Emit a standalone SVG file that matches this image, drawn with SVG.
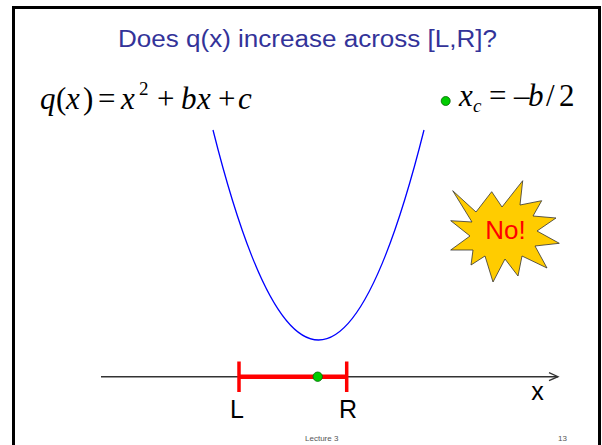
<svg xmlns="http://www.w3.org/2000/svg" width="602" height="445" viewBox="0 0 602 445">
<defs>
<style>
.title{font-family:"Liberation Sans",Arial,sans-serif;font-size:23px;fill:#333399}
.math{font-family:"Liberation Serif","Times New Roman",serif;font-size:31px;fill:#000}
.it{font-style:italic}
.lbl{font-family:"Liberation Sans",Arial,sans-serif;font-size:25px;fill:#000}
.foot{font-family:"Liberation Sans",Arial,sans-serif;font-size:8px;fill:#555}
.dot{fill:#00cc00;stroke:#006600;stroke-width:0.8}
</style>
<marker id="arr" markerWidth="12" markerHeight="12" refX="10" refY="6" orient="auto" markerUnits="userSpaceOnUse">
<path d="M1,2 L10,6 L1,10" fill="none" stroke="#333" stroke-width="1.3"/>
</marker>
</defs>
<rect width="602" height="445" fill="#fff"/>
<path d="M13.5,450 L13.5,7.5 L599.5,7.5 L599.5,450" fill="none" stroke="#000" stroke-width="3"/>
<text class="title" x="307.5" y="47" text-anchor="middle" textLength="379" lengthAdjust="spacingAndGlyphs">Does q(x) increase across [L,R]?</text>
<g id="formula-q">
<text class="math" y="108.5"><tspan class="it" x="40">q</tspan><tspan x="56">(</tspan><tspan class="it" x="66">x</tspan><tspan x="83">)</tspan><tspan x="98">=</tspan><tspan class="it" x="121">x</tspan><tspan x="139" y="95" style="font-size:19px">2</tspan><tspan x="157" y="108.5">+</tspan><tspan class="it" x="181">b</tspan><tspan class="it" x="197">x</tspan><tspan x="218">+</tspan><tspan class="it" x="238">c</tspan></text>
</g>
<g id="formula-xc">
<circle class="dot" cx="445.7" cy="101" r="4.5"/>
<text class="math" y="105.5"><tspan class="it" x="459">x</tspan><tspan class="it" x="473" y="112" style="font-size:19px">c</tspan><tspan x="489" y="105.5">=</tspan><tspan x="514">–</tspan><tspan class="it" x="528">b</tspan><tspan x="546">/</tspan><tspan x="559">2</tspan></text>
</g>
<g id="parabola">
<path d="M213,130 Q318.5,550 424,130" fill="none" stroke="#0000ff" stroke-width="1.3"/>
</g>
<g id="star">
<polygon points="452.7,190.7 476,212 491.7,191.7 502,207 522.7,180.7 520,205 541.7,200.7 533,216 556,218 537,231 559.3,243.3 535,246 547,268 522,256 518,276 505,259 493,282 485,256 471,265 473,250 450.7,250 470,236 450.7,220.7 472,222" fill="#ffcc00" stroke="#333" stroke-width="0.8" stroke-linejoin="miter"/>
<text x="505.5" y="238.5" text-anchor="middle" style="font-family:'Liberation Sans',Arial,sans-serif;font-size:26px;fill:#ff0000">No!</text>
</g>
<g id="connectors">
<line x1="101" y1="376.7" x2="558" y2="376.7" stroke="#333" stroke-width="1.5" marker-end="url(#arr)"/>
</g>
<g id="interval">
<line x1="239" y1="376.7" x2="346.7" y2="376.7" stroke="#ff0000" stroke-width="4.5"/>
<line x1="239" y1="361.5" x2="239" y2="392" stroke="#ff0000" stroke-width="3.5"/>
<line x1="346.7" y1="361.5" x2="346.7" y2="392" stroke="#ff0000" stroke-width="3.5"/>
<circle class="dot" cx="317.7" cy="376.7" r="4.7"/>
</g>
<text class="lbl" x="237" y="418" text-anchor="middle">L</text>
<text class="lbl" x="348" y="418" text-anchor="middle">R</text>
<text class="lbl" x="537.5" y="400" text-anchor="middle">x</text>
<text class="foot" x="321.7" y="441" text-anchor="middle">Lecture 3</text>
<text class="foot" x="562.5" y="441" text-anchor="middle">13</text>
</svg>
